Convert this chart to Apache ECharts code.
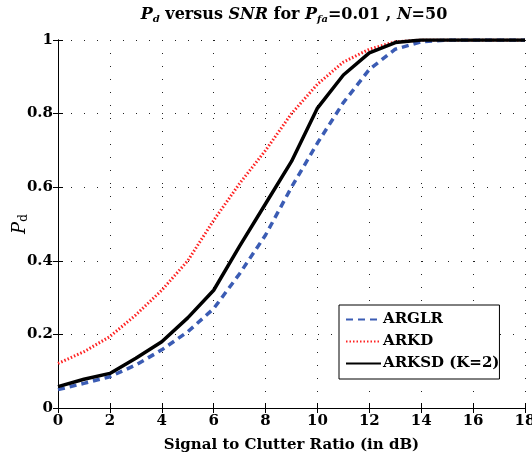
<!DOCTYPE html>
<html>
<head>
<meta charset="utf-8">
<script src="https://cdn.jsdelivr.net/npm/echarts@6/dist/echarts.min.js"></script>
<style>html,body{margin:0;padding:0;background:#fff}#c{width:532px;height:457px}</style>
</head>
<body>
<div id="c"></div>
<script>
const snr = [0,1,2,3,4,5,6,7,8,9,10,11,12,13,14,15,16,17,18];
const arglr = [0.05,0.067,0.085,0.117,0.158,0.207,0.27,0.365,0.47,0.60,0.72,0.83,0.92,0.975,0.995,1,1,1,1];
const arkd = [0.121,0.153,0.194,0.253,0.32,0.40,0.51,0.61,0.70,0.80,0.88,0.94,0.975,0.995,1,1,1,1,1];
const arksd = [0.058,0.078,0.094,0.135,0.18,0.245,0.32,0.44,0.555,0.67,0.815,0.905,0.965,0.993,1,1,1,1,1];
const seriesNames = ['ARGLR','ARKD','ARKSD (K=2)'];
const xTicks = [0,2,4,6,8,10,12,14,16,18];
const yTicks = [0,0.2,0.4,0.6,0.8,1];

const serif = 'DejaVu Serif';
const pairs = arr => snr.map((x,i)=>[x,arr[i]]);
const chart = echarts.init(document.getElementById('c'));
const grid = {left:58,right:7,top:40,bottom:49,containLabel:false,outerBoundsMode:'none'};
const baseAxisLine = {show:true,lineStyle:{color:'#000',width:1}};
chart.setOption({
  backgroundColor:'#fff',
  animation:false,
  title:{
    text:'{i|P}{sub|d}{n| versus }{i|SNR}{n| for }{i|P}{sub|fa}{n|=0.01 , }{i|N}{n|=50}',
    left:289, textAlign:'center', top:0,
    textStyle:{
      rich:{
        n:{fontFamily:serif,fontSize:16,fontWeight:'bold',color:'#000'},
        i:{fontFamily:serif,fontSize:16,fontWeight:'bold',fontStyle:'italic',color:'#000'},
        sub:{fontFamily:serif,fontSize:10,fontWeight:'bold',fontStyle:'italic',color:'#000',padding:[9,0,0,0]}
      }
    }
  },
  legend:{
    data:seriesNames,
    orient:'vertical',
    left:339, top:305,
    backgroundColor:'#fff',
    borderColor:'#000', borderWidth:1,
    padding:[7,0,8,6],
    itemWidth:35, itemHeight:16, itemGap:7,
    itemStyle:{opacity:0},
    textStyle:{fontFamily:serif,fontSize:15,fontWeight:'bold',color:'#000',padding:[0,0,0,-3]}
  },
  grid:grid,
  xAxis:[{
    type:'value', min:0, max:18, interval:2,
    name:'Signal to Clutter Ratio (in dB)', nameLocation:'middle', nameGap:30,
    nameMoveOverlap:false,
    nameTextStyle:{fontFamily:serif,fontSize:15,fontWeight:'bold',color:'#000'},
    axisLine:baseAxisLine,
    axisTick:{show:true,inside:true,length:5,lineStyle:{color:'#000'}},
    axisLabel:{fontFamily:serif,fontSize:15,fontWeight:'bold',color:'#000',margin:6},
    splitLine:{show:true,lineStyle:{color:'#222',type:[1,12],width:1}}
  },{
    type:'value', min:0, max:18, interval:2, position:'top',
    axisLine:baseAxisLine,
    axisTick:{show:true,inside:true,length:5,lineStyle:{color:'#000'}},
    axisLabel:{show:false}, splitLine:{show:false}
  }],
  yAxis:[{
    type:'value', min:0, max:1, interval:0.2,
    name:'{i|P}{s|d}', nameLocation:'middle', nameGap:28, nameRotate:90,
    nameMoveOverlap:false,
    nameTextStyle:{rich:{
      i:{fontFamily:serif,fontSize:18,fontStyle:'italic',color:'#000'},
      s:{fontFamily:serif,fontSize:12,color:'#000',padding:[8,0,0,0]}
    }},
    axisLine:baseAxisLine,
    axisTick:{show:true,inside:true,length:5,lineStyle:{color:'#000'}},
    axisLabel:{fontFamily:serif,fontSize:15,fontWeight:'bold',color:'#000',margin:5,
      formatter:v=>String(+v.toFixed(1))},
    splitLine:{show:true,lineStyle:{color:'#222',type:[1,12],width:1}}
  },{
    type:'value', min:0, max:1, interval:0.2, position:'right',
    axisLine:baseAxisLine,
    axisTick:{show:true,inside:true,length:5,lineStyle:{color:'#000'}},
    axisLabel:{show:false}, splitLine:{show:false}
  }],
  series:[
    {name:seriesNames[0],type:'line',data:pairs(arglr),symbol:'none',z:3,
      lineStyle:{color:'#3b5cb4',width:3.5,type:[7,5]},itemStyle:{color:'#3b5cb4'}},
    {name:seriesNames[1],type:'line',data:pairs(arkd),symbol:'none',z:2,
      lineStyle:{color:'#ff2222',width:3,type:[1.5,2]},itemStyle:{color:'#ff2222'}},
    {name:seriesNames[2],type:'line',data:pairs(arksd),symbol:'none',z:4,
      lineStyle:{color:'#000',width:3.5,type:'solid'},itemStyle:{color:'#000'}}
  ]
});
</script>
</body>
</html>
